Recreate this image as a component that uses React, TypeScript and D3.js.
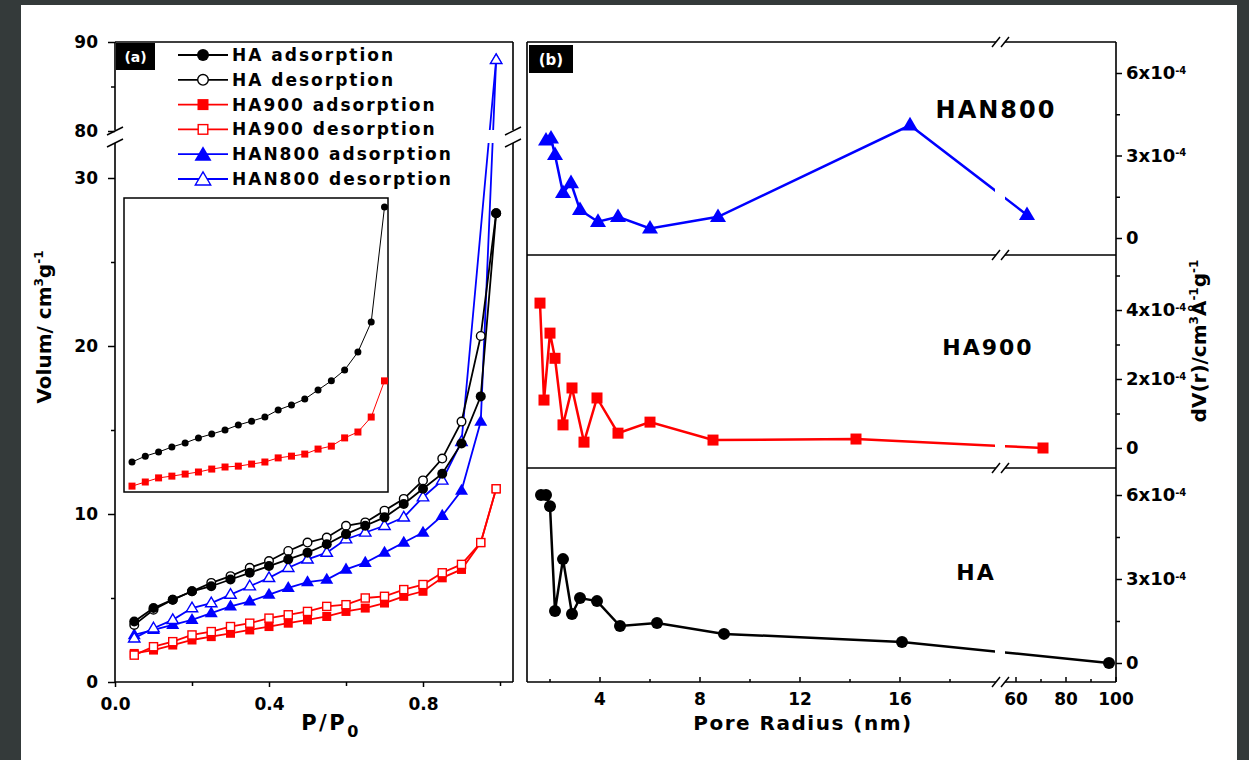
'use client';

import React, { useEffect, useRef } from 'react';
import * as d3 from 'd3';

// ---- panel (a): N2 isotherms (P/P0 vs volume, cm3/g) ----
const pAds = [0.05, 0.1, 0.15, 0.2, 0.25, 0.3, 0.35, 0.4, 0.45, 0.5, 0.55, 0.6, 0.65, 0.7, 0.75, 0.8, 0.85, 0.9, 0.95, 0.99];
const pDes = [0.05, 0.1, 0.15, 0.2, 0.25, 0.3, 0.35, 0.4, 0.45, 0.5, 0.55, 0.6, 0.65, 0.7, 0.75, 0.8, 0.85, 0.9, 0.95, 0.99];
const pDesHAN800 = [0.05, 0.1, 0.15, 0.2, 0.25, 0.3, 0.35, 0.4, 0.45, 0.5, 0.55, 0.6, 0.65, 0.7, 0.75, 0.8, 0.85, 0.9, 0.99];

const haAds = [3.6, 4.4, 4.9, 5.4, 5.7, 6.1, 6.5, 6.9, 7.3, 7.7, 8.2, 8.8, 9.3, 9.8, 10.6, 11.5, 12.4, 14.2, 17.0, 27.9];
const haDes = [3.4, 4.3, 4.9, 5.4, 5.9, 6.3, 6.8, 7.2, 7.8, 8.3, 8.6, 9.3, 9.5, 10.2, 10.9, 12.0, 13.3, 15.5, 20.6, 27.9];
const ha900Ads = [1.7, 1.9, 2.2, 2.5, 2.7, 2.9, 3.1, 3.3, 3.5, 3.7, 3.9, 4.2, 4.4, 4.7, 5.1, 5.4, 6.2, 6.7, 8.3, 11.5];
const ha900Des = [1.6, 2.1, 2.4, 2.8, 3.0, 3.3, 3.5, 3.8, 4.0, 4.2, 4.5, 4.6, 5.0, 5.1, 5.5, 5.8, 6.5, 7.0, 8.3, 11.5];
const han800Ads = [2.8, 3.1, 3.4, 3.7, 4.1, 4.5, 4.8, 5.2, 5.6, 5.95, 6.1, 6.7, 7.1, 7.7, 8.3, 8.9, 9.9, 11.4, 15.5, 88];
const han800Des = [2.6, 3.2, 3.7, 4.4, 4.7, 5.2, 5.7, 6.2, 6.8, 7.3, 7.7, 8.5, 8.9, 9.3, 9.8, 11.0, 12.0, 14.3, 88];

// inset of (a): HA and HA900 adsorption, relative units
const insetP = [0.05, 0.1, 0.15, 0.2, 0.25, 0.3, 0.35, 0.4, 0.45, 0.5, 0.55, 0.6, 0.65, 0.7, 0.75, 0.8, 0.85, 0.9, 0.95, 1.0];
const insetHA = [10.2, 12.2, 13.6, 15.3, 16.7, 18.4, 19.7, 21.1, 22.8, 24.1, 25.5, 27.9, 29.6, 31.6, 34.7, 37.8, 41.5, 47.6, 57.8, 96.9];
const insetHA900 = [2.0, 3.4, 4.8, 5.4, 6.1, 6.8, 7.8, 8.5, 8.8, 9.5, 10.2, 11.6, 12.2, 12.9, 14.6, 15.6, 18.4, 20.4, 25.5, 37.8];

// ---- panel (b): pore size distribution (radius nm vs dV(r), x1e-4) ----
const han800Radius = [1.84, 2.04, 2.2, 2.52, 2.84, 3.2, 3.92, 4.72, 6.0, 8.72, 16.4, 64.4];
const han800DV = [3.55, 3.62, 3.02, 1.64, 2.0, 1.02, 0.59, 0.77, 0.35, 0.77, 4.1, 0.84];
const ha900Radius = [1.6, 1.76, 2.0, 2.2, 2.52, 2.88, 3.36, 3.88, 4.72, 6.0, 8.52, 14.24, 70.8];
const ha900DV = [4.2, 1.39, 3.33, 2.6, 0.67, 1.74, 0.17, 1.45, 0.43, 0.75, 0.23, 0.26, 0.0];
const haRadius = [1.64, 1.84, 2.0, 2.2, 2.52, 2.88, 3.2, 3.88, 4.8, 6.28, 8.96, 16.08, 97.2];
const haDV = [6.0, 6.0, 5.6, 1.86, 3.71, 1.75, 2.32, 2.21, 1.32, 1.43, 1.04, 0.75, 0.0];

// ticks
const legendLabels = ['HA adsorption', 'HA desorption', 'HA900 adsorption', 'HA900 desorption', 'HAN800 adsorption', 'HAN800 desorption'];
const xTicksA = [0, 0.4, 0.8];
const xMinorA = [0.2, 0.6, 1.0];
const yTicksLowA = [0, 10, 20, 30];
const yMinorLowA = [5, 15, 25];
const yTicksUpA = [80, 90];
const yMinorUpA = [85];
const xTicksB1 = [4, 8, 12, 16];
const xMinorB1 = [2, 6, 10, 14, 18];
const xTicksB2 = [60, 80, 100];
const xMinorB2 = [70, 90];
const yTicksHAN800 = [0, 3, 6];
const yMinorHAN800 = [1.5, 4.5];
const yTicksHA900 = [0, 2, 4];
const yMinorHA900 = [1, 3, 5];
const yTicksHA = [0, 3, 6];
const yMinorHA = [1.5, 4.5];

const FONT = '"DejaVu Sans", "Liberation Sans", Arial, sans-serif';
const BLUE = '#0000ff';
const RED = '#ff0000';
const BLACK = '#000000';

const pairs = (xs: number[], ys: number[]) => xs.map((x, i) => [x, ys[i]] as [number, number]);

const App = () => {
  const svgRef = useRef<SVGSVGElement>(null);

  useEffect(() => {
    const svg = d3.select(svgRef.current);
    svg.selectAll('*').remove();

    // background
    svg.append('rect').attr('width', 1249).attr('height', 760).attr('fill', '#343a3a');
    svg.append('rect').attr('x', 21).attr('y', 5).attr('width', 1216).attr('height', 755).attr('fill', '#ffffff');

    const defs = svg.append('defs');
    const addClip = (id: string, x: number, y: number, w: number, h: number) => {
      defs.append('clipPath').attr('id', id).append('rect')
        .attr('x', x).attr('y', y).attr('width', w).attr('height', h);
    };

    const marker = (g: any, shape: string, size: number, color: string, filled: boolean, x: number, y: number) => {
      const fill = filled ? color : '#ffffff';
      const sw = filled ? 0 : 1.4;
      if (shape === 'circle') {
        g.append('circle').attr('cx', x).attr('cy', y).attr('r', filled ? size / 2 : size / 2 - 0.7)
          .attr('fill', fill).attr('stroke', color).attr('stroke-width', sw);
      } else if (shape === 'square') {
        const s = filled ? size : size - 1.4;
        g.append('rect').attr('x', x - s / 2).attr('y', y - s / 2).attr('width', s).attr('height', s)
          .attr('fill', fill).attr('stroke', color).attr('stroke-width', sw);
      } else {
        const w = filled ? size : size - 1.6;
        const h = w * 0.85;
        g.append('path')
          .attr('d', `M${x},${y - h * 0.62}L${x + w / 2},${y + h * 0.38}L${x - w / 2},${y + h * 0.38}Z`)
          .attr('fill', fill).attr('stroke', color).attr('stroke-width', sw).attr('stroke-linejoin', 'miter');
      }
    };

    const styleAxis = (g: any, size: number) => {
      g.select('.domain').remove();
      g.attr('font-family', FONT).attr('font-size', size).attr('font-weight', 'bold');
      g.selectAll('line').attr('stroke', BLACK).attr('stroke-width', 1.5);
      g.selectAll('text').attr('fill', BLACK);
    };

    const breakMark = (g: any, x: number, y: number, dx: number, dy: number) => {
      g.append('line').attr('x1', x - dx).attr('y1', y + dy).attr('x2', x + dx).attr('y2', y - dy)
        .attr('stroke', BLACK).attr('stroke-width', 1.5);
    };

    // ================= panel (a) =================
    const xA = d3.scaleLinear().domain([0, 1]).range([115, 500]);
    const yLowA = d3.scaleLinear().domain([0, 30]).range([682, 178]);
    const yUpA = d3.scaleLinear().domain([80, 90]).range([131, 42]);
    const yA = (v: number) => (v > 50 ? yUpA(v) : yLowA(v));
    addClip('clipAlow', 115, 143, 398, 539);
    addClip('clipAup', 115, 42, 398, 88);

    const gA = svg.append('g');

    const seriesA = [
      { name: 'HA900 adsorption', p: pAds, v: ha900Ads, color: RED, shape: 'square', filled: true, size: 9 },
      { name: 'HA900 desorption', p: pDes, v: ha900Des, color: RED, shape: 'square', filled: false, size: 9.5 },
      { name: 'HAN800 adsorption', p: pAds, v: han800Ads, color: BLUE, shape: 'triangle', filled: true, size: 13 },
      { name: 'HAN800 desorption', p: pDesHAN800, v: han800Des, color: BLUE, shape: 'triangle', filled: false, size: 13 },
      { name: 'HA desorption', p: pDes, v: haDes, color: BLACK, shape: 'circle', filled: false, size: 10 },
      { name: 'HA adsorption', p: pAds, v: haAds, color: BLACK, shape: 'circle', filled: true, size: 10 },
    ];

    const lineA = d3.line<[number, number]>().x(d => xA(d[0])).y(d => yA(d[1]));

    seriesA.forEach(s => {
      const pts = pairs(s.p, s.v);
      ['clipAlow', 'clipAup'].forEach(id => {
        gA.append('path').attr('d', lineA(pts)).attr('fill', 'none')
          .attr('stroke', s.color).attr('stroke-width', 1.8).attr('clip-path', `url(#${id})`);
      });
      const gm = gA.append('g');
      pts.forEach(d => marker(gm, s.shape, s.size, s.color, s.filled, xA(d[0]), yA(d[1])));
    });

    // frame of (a) with axis break
    gA.append('path')
      .attr('d', 'M115,42H513 M115,682H513 M115,42V130 M115,143V682 M513,42V130 M513,143V682')
      .attr('fill', 'none').attr('stroke', BLACK).attr('stroke-width', 1.6);
    [115, 513].forEach(x => {
      breakMark(gA, x, 131, 8, 4);
      breakMark(gA, x, 143, 8, 4);
    });

    // axes of (a)
    gA.append('g').attr('transform', 'translate(115,0)')
      .call(d3.axisLeft(yLowA).tickValues(yTicksLowA).tickSize(7).tickPadding(10))
      .call((g: any) => styleAxis(g, 17));
    gA.append('g').attr('transform', 'translate(115,0)')
      .call(d3.axisLeft(yLowA).tickValues(yMinorLowA).tickSize(4).tickFormat(() => ''))
      .call((g: any) => styleAxis(g, 17));
    gA.append('g').attr('transform', 'translate(115,0)')
      .call(d3.axisLeft(yUpA).tickValues(yTicksUpA).tickSize(7).tickPadding(10))
      .call((g: any) => styleAxis(g, 17));
    gA.append('g').attr('transform', 'translate(115,0)')
      .call(d3.axisLeft(yUpA).tickValues(yMinorUpA).tickSize(4).tickFormat(() => ''))
      .call((g: any) => styleAxis(g, 17));
    gA.append('g').attr('transform', 'translate(0,682)')
      .call(d3.axisBottom(xA).tickValues(xTicksA).tickSize(5).tickPadding(11).tickFormat(d3.format('.1f')))
      .call((g: any) => styleAxis(g, 17));
    gA.append('g').attr('transform', 'translate(0,682)')
      .call(d3.axisBottom(xA).tickValues(xMinorA).tickSize(4).tickFormat(() => ''))
      .call((g: any) => styleAxis(g, 17));

    // axis titles of (a)
    const px = gA.append('text').attr('x', 331).attr('y', 730).attr('text-anchor', 'middle')
      .attr('font-family', FONT).attr('font-weight', 'bold').attr('font-size', 21).attr('letter-spacing', 2.5);
    px.append('tspan').text('P/P');
    px.append('tspan').attr('dy', 7).attr('font-size', 16).text('0');

    const vy = gA.append('text').attr('transform', 'translate(51,327) rotate(-90)').attr('text-anchor', 'middle')
      .attr('font-family', FONT).attr('font-weight', 'bold').attr('font-size', 20);
    vy.append('tspan').text('Volum/ cm');
    vy.append('tspan').attr('dy', -8).attr('font-size', 12).text('3');
    vy.append('tspan').attr('dy', 8).text('g');
    vy.append('tspan').attr('dy', -8).attr('font-size', 12).text('-1');

    // (a) tag
    gA.append('rect').attr('x', 116).attr('y', 43).attr('width', 39).attr('height', 27).attr('fill', BLACK);
    gA.append('text').attr('x', 135.5).attr('y', 62).attr('text-anchor', 'middle').attr('fill', '#fff')
      .attr('font-family', FONT).attr('font-weight', 'bold').attr('font-size', 14).text('(a)');

    // legend
    const legendOrder = ['HA adsorption', 'HA desorption', 'HA900 adsorption', 'HA900 desorption', 'HAN800 adsorption', 'HAN800 desorption'];
    const legendSize: Record<string, number> = { circle: 12, square: 11, triangle: 17 };
    legendLabels.forEach((label, i) => {
      const s = seriesA.find(d => d.name === legendOrder[i])!;
      const y = 55 + i * 24.8;
      gA.append('line').attr('x1', 178).attr('x2', 228).attr('y1', y).attr('y2', y)
        .attr('stroke', s.color).attr('stroke-width', 1.8);
      marker(gA, s.shape, legendSize[s.shape], s.color, s.filled, 203, y + (s.shape === 'triangle' ? 1 : 0));
      gA.append('text').attr('x', 232).attr('y', y + 6).attr('font-family', FONT).attr('font-weight', 'bold')
        .attr('font-size', 17).attr('letter-spacing', 2).attr('fill', BLACK).text(label);
    });

    // inset
    const xIn = d3.scaleLinear().domain([0.05, 1.0]).range([132, 384.5]);
    const yIn = d3.scaleLinear().domain([0, 100]).range([492, 198]);
    const lineIn = d3.line<[number, number]>().x(d => xIn(d[0])).y(d => yIn(d[1]));
    gA.append('rect').attr('x', 124).attr('y', 198).attr('width', 264).attr('height', 294)
      .attr('fill', 'none').attr('stroke', BLACK).attr('stroke-width', 1.5);
    [
      { v: insetHA900, color: RED, shape: 'square', size: 7 },
      { v: insetHA, color: BLACK, shape: 'circle', size: 7 },
    ].forEach(s => {
      const pts = pairs(insetP, s.v);
      gA.append('path').attr('d', lineIn(pts)).attr('fill', 'none').attr('stroke', s.color).attr('stroke-width', 1);
      pts.forEach(d => marker(gA, s.shape, s.size, s.color, true, xIn(d[0]), yIn(d[1])));
    });

    // ================= panel (b) =================
    const xB1 = d3.scaleLinear().domain([4, 16]).range([600, 900]);
    const xB2 = d3.scaleLinear().domain([60, 100]).range([1016, 1116]);
    const xB = (v: number) => (v < 30 ? xB1(v) : xB2(v));
    addClip('clipB1', 527, 42, 468, 640);
    addClip('clipB2', 1005, 42, 111, 640);

    const gB = svg.append('g');

    const panelsB = [
      {
        label: 'HAN800', r: han800Radius, v: han800DV, color: BLUE, shape: 'triangle', size: 16,
        y: d3.scaleLinear().domain([0, 6]).range([238, 73]), major: yTicksHAN800, minor: yMinorHAN800,
        lx: 996, ly: 118, fs: 24,
      },
      {
        label: 'HA900', r: ha900Radius, v: ha900DV, color: RED, shape: 'square', size: 11,
        y: d3.scaleLinear().domain([0, 4]).range([448, 310]), major: yTicksHA900, minor: yMinorHA900,
        lx: 988, ly: 355, fs: 22,
      },
      {
        label: 'HA', r: haRadius, v: haDV, color: BLACK, shape: 'circle', size: 12,
        y: d3.scaleLinear().domain([0, 6]).range([663, 495]), major: yTicksHA, minor: yMinorHA,
        lx: 976, ly: 580, fs: 22,
      },
    ];

    panelsB.forEach(p => {
      const pts = pairs(p.r, p.v);
      const line = d3.line<[number, number]>().x(d => xB(d[0])).y(d => p.y(d[1]));
      ['clipB1', 'clipB2'].forEach(id => {
        gB.append('path').attr('d', line(pts)).attr('fill', 'none').attr('stroke', p.color)
          .attr('stroke-width', 2.5).attr('clip-path', `url(#${id})`);
      });
      pts.forEach(d => marker(gB, p.shape, p.size, p.color, true, xB(d[0]), p.y(d[1])));

      gB.append('text').attr('x', p.lx).attr('y', p.ly).attr('text-anchor', 'middle')
        .attr('font-family', FONT).attr('font-weight', 'bold').attr('font-size', p.fs)
        .attr('letter-spacing', 2).attr('fill', BLACK).text(p.label);

      // right axis with x10^-4 labels
      gB.append('g').attr('transform', 'translate(1116,0)')
        .call(d3.axisRight(p.y).tickValues(p.major).tickSize(6).tickPadding(4))
        .call((g: any) => styleAxis(g, 18))
        .call((g: any) => g.selectAll('text').each(function (this: any, d: any) {
          const t = d3.select(this);
          t.text('');
          if (d === 0) {
            t.text('0');
          } else {
            t.append('tspan').text(`${d}x10`);
            t.append('tspan').attr('dy', '-0.55em').attr('font-size', 10).text('-4');
          }
        }));
      gB.append('g').attr('transform', 'translate(1116,0)')
        .call(d3.axisRight(p.y).tickValues(p.minor).tickSize(4).tickFormat(() => ''))
        .call((g: any) => styleAxis(g, 18));
    });

    // frame of (b) with x break
    const hLines = [42, 255, 468, 682].map(y => `M527,${y}H996 M1005,${y}H1116`).join(' ');
    gB.append('path').attr('d', `${hLines} M527,42V682 M1116,42V682`)
      .attr('fill', 'none').attr('stroke', BLACK).attr('stroke-width', 1.6);
    [42, 255, 468, 682].forEach(y => {
      breakMark(gB, 996, y, 4, 5);
      breakMark(gB, 1005, y, 4, 5);
    });

    // bottom axis of (b): inward ticks, labels placed from the two scales
    const gBx = gB.append('g');
    const tickRows = [
      { scale: xB1, major: xTicksB1, minor: xMinorB1 },
      { scale: xB2, major: xTicksB2, minor: xMinorB2 },
    ];
    tickRows.forEach(row => {
      row.major.forEach(v => {
        gBx.append('line').attr('x1', row.scale(v)).attr('x2', row.scale(v)).attr('y1', 682).attr('y2', 677)
          .attr('stroke', BLACK).attr('stroke-width', 1.5);
        gBx.append('text').attr('x', row.scale(v)).attr('y', 705).attr('text-anchor', 'middle')
          .attr('font-family', FONT).attr('font-weight', 'bold').attr('font-size', 17).attr('fill', BLACK)
          .text(String(v));
      });
      row.minor.forEach(v => {
        gBx.append('line').attr('x1', row.scale(v)).attr('x2', row.scale(v)).attr('y1', 682).attr('y2', 679)
          .attr('stroke', BLACK).attr('stroke-width', 1.5);
      });
    });

    gB.append('text').attr('x', 803).attr('y', 730).attr('text-anchor', 'middle')
      .attr('font-family', FONT).attr('font-weight', 'bold').attr('font-size', 20)
      .attr('letter-spacing', 1.5).attr('fill', BLACK).text('Pore Radius (nm)');

    const dv = gB.append('text').attr('transform', 'translate(1206,341) rotate(-90)').attr('text-anchor', 'middle')
      .attr('font-family', FONT).attr('font-weight', 'bold').attr('font-size', 20).attr('fill', BLACK);
    dv.append('tspan').text('dV(r)/cm');
    dv.append('tspan').attr('dy', -8).attr('font-size', 12).text('3');
    dv.append('tspan').attr('dy', 8).text('\u00c5');
    dv.append('tspan').attr('dy', -8).attr('font-size', 12).text('-1');
    dv.append('tspan').attr('dy', 8).text('g');
    dv.append('tspan').attr('dy', -8).attr('font-size', 12).text('-1');

    // (b) tag
    gB.append('rect').attr('x', 529).attr('y', 45).attr('width', 44).attr('height', 28).attr('fill', BLACK);
    gB.append('text').attr('x', 551).attr('y', 65).attr('text-anchor', 'middle').attr('fill', '#fff')
      .attr('font-family', FONT).attr('font-weight', 'bold').attr('font-size', 15).text('(b)');
  }, []);

  return (
    <svg
      ref={svgRef}
      width={1249}
      height={760}
      style={{ position: 'absolute', left: 0, top: 0, display: 'block' }}
    />
  );
};

export default App;
